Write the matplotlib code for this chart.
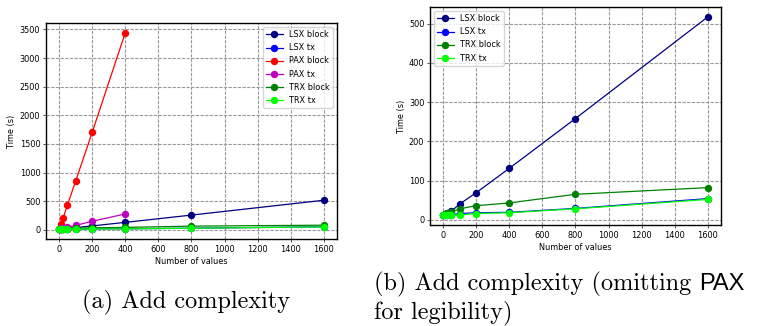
import matplotlib
matplotlib.use("Agg")
import matplotlib.pyplot as plt

# ---- data ----
x_values = [1, 10, 25, 50, 100, 200, 400, 800, 1600]
x_pax = [1, 10, 25, 50, 100, 200, 400]
lsx_block = [12, 15, 18, 22, 40, 69, 131, 258, 517]
lsx_tx = [12, 12, 13, 13, 16, 18, 19, 29, 54]
pax_block = [15, 105, 210, 430, 850, 1700, 3440]
pax_tx = [14, 25, 35, 45, 78, 150, 278]
trx_block = [12, 14, 17, 20, 28, 36, 43, 65, 82]
trx_tx = [12, 12, 12, 12, 12, 16, 18, 28, 52]

x_label = "Number of values"
y_label = "Time (s)"
caption_a = "(a) Add complexity"
caption_b1 = "(b) Add complexity (omitting "
caption_b_sans = "PAX"
caption_b2 = "for legibility)"

S = 0.587
plt.rcParams.update({
    "font.size": 10 * S,
    "axes.linewidth": 1.0,
    "xtick.major.size": 3.5 * S,
    "ytick.major.size": 3.5 * S,
    "xtick.major.width": 0.8 * S,
    "ytick.major.width": 0.8 * S,
    "xtick.major.pad": 3.5 * S,
    "ytick.major.pad": 3.5 * S,
    "axes.labelpad": 4 * S,
    "lines.linewidth": 0.9,
    "lines.markersize": 4.3,
})

fig = plt.figure(figsize=(7.59, 3.26), dpi=100)
W, H = 759, 326

def add_ax(l, t, r, b):
    return fig.add_axes([l / W, 1 - b / H, (r - l) / W, (b - t) / H])

ax1 = add_ax(46, 23, 337, 239)
ax2 = add_ax(430, 7, 721, 225)

def style(ax):
    ax.grid(True, color="#9a9a9a", linestyle=(0, (3, 1.2)), linewidth=0.8)
    ax.set_axisbelow(True)
    ax.set_xlabel(x_label)
    ax.set_ylabel(y_label)
    ax.set_xticks(range(0, 1601, 200))

ax1.plot(x_values, lsx_block, "o-", color="navy", label="LSX block")
ax1.plot(x_values, lsx_tx, "o-", color="blue", label="LSX tx")
ax1.plot(x_pax, pax_block, "o-", color="red", label="PAX block")
ax1.plot(x_pax, pax_tx, "o-", color="m", label="PAX tx")
ax1.plot(x_values, trx_block, "o-", color="green", label="TRX block")
ax1.plot(x_values, trx_tx, "o-", color="lime", label="TRX tx")
style(ax1)
ax1.legend(loc="upper right")

ax2.plot(x_values, lsx_block, "o-", color="navy", label="LSX block")
ax2.plot(x_values, lsx_tx, "o-", color="blue", label="LSX tx")
ax2.plot(x_values, trx_block, "o-", color="green", label="TRX block")
ax2.plot(x_values, trx_tx, "o-", color="lime", label="TRX tx")
style(ax2)
ax2.legend(loc="upper left")

# ---- captions ----
cap_fs = 17.5
fig.text(186 / W, 1 - 302 / H, caption_a, family="cmr10", fontsize=cap_fs,
         ha="center", va="center")
t1 = fig.text(374 / W, 1 - 284 / H, caption_b1, family="cmr10", fontsize=cap_fs,
              ha="left", va="center")
fig.canvas.draw()
r = fig.canvas.get_renderer()
bb = t1.get_window_extent(r)
fig.text(bb.x1 / W, 1 - 284 / H, caption_b_sans,
         family="Liberation Sans", fontsize=cap_fs * 0.97, ha="left", va="center")
fig.text(374 / W, 1 - 313 / H, caption_b2, family="cmr10", fontsize=cap_fs,
         ha="left", va="center")

fig.savefig("out.png", dpi=100)
